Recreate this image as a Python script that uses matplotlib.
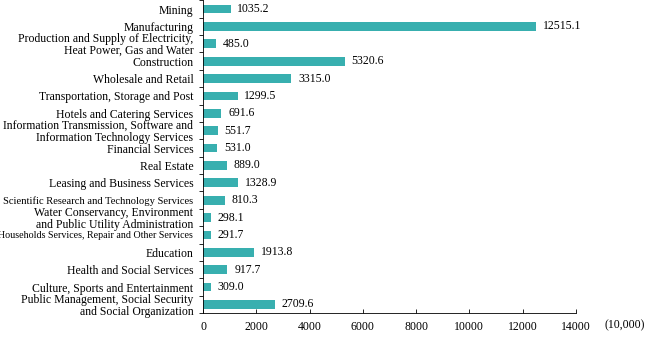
import numpy as np
import matplotlib.pyplot as plt

plt.rcParams['font.family'] = ['Liberation Serif', 'DejaVu Serif']

categories = [
    "Mining",
    "Manufacturing",
    "Production and Supply of Electricity,\nHeat Power, Gas and Water",
    "Construction",
    "Wholesale and Retail",
    "Transportation, Storage and Post",
    "Hotels and Catering Services",
    "Information Transmission, Software and\nInformation Technology Services",
    "Financial Services",
    "Real Estate",
    "Leasing and Business Services",
    "Scientific Research and Technology Services",
    "Water Conservancy, Environment\nand Public Utility Administration",
    "Households Services, Repair and Other Services",
    "Education",
    "Health and Social Services",
    "Culture, Sports and Entertainment",
    "Public Management, Social Security\nand Social Organization",
]
values = [1035.2, 12515.1, 485.0, 5320.6, 3315.0, 1299.5, 691.6, 551.7, 531.0,
          889.0, 1328.9, 810.3, 298.1, 291.7, 1913.8, 917.7, 309.0, 2709.6]
x_ticks = [0, 2000, 4000, 6000, 8000, 10000, 12000, 14000]

fig = plt.figure(figsize=(6.55, 3.4), dpi=100)
ax = fig.add_axes([0.31, 0.079, 0.569, 0.92])

y = np.arange(len(categories))
ax.barh(y, values, height=0.5, color='#38AFAF')
for yi, v in zip(y, values):
    ax.text(v + 250, yi, f"{v:.1f}", va='center', ha='left', fontsize=8.5)

ax.set_ylim(len(categories) - 0.5, -0.5)
ax.set_xlim(0, 14000)
ax.set_yticks(y)
ax.set_yticklabels(categories, fontsize=8.5, linespacing=0.95)
ax.tick_params(axis='y', length=0, pad=7)
# long single-line labels are squeezed in the original
labels = ax.get_yticklabels()
labels[11].set_fontsize(7.6)
labels[13].set_fontsize(7.2)
ax.set_yticks(np.arange(-0.5, len(categories), 1), minor=True)
ax.tick_params(axis='y', which='minor', length=3, direction='out', width=0.6)
ax.set_xticks(x_ticks)
ax.set_xticklabels([str(t) for t in x_ticks], fontsize=8.5)
ax.tick_params(axis='x', direction='in', length=3, width=0.6, pad=6)

for s in ['top', 'right']:
    ax.spines[s].set_visible(False)
for s in ['left', 'bottom']:
    ax.spines[s].set_linewidth(0.6)

ax.text(1.078, -0.038, "(10,000)", transform=ax.transAxes, fontsize=8.5,
        ha='left', va='center')

fig.savefig('out.png', dpi=100)
